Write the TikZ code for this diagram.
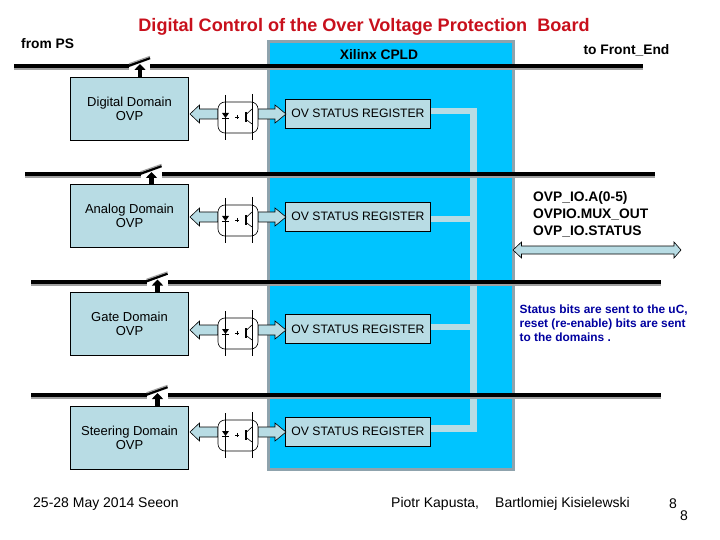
\documentclass[tikz,border=0pt]{standalone}
\usepackage{fontspec}
\setmainfont{Liberation Sans}
\usetikzlibrary{arrows.meta}
\definecolor{lblue}{HTML}{B8DCE4}
\definecolor{cyanb}{HTML}{00C4FF}
\definecolor{edgeg}{HTML}{8FA3AD}
\definecolor{shadowg}{HTML}{A0A0A0}
\definecolor{titler}{HTML}{C8101C}
\definecolor{noteblue}{HTML}{0000A0}
\tikzset{x=1pt,y=-1pt,
 domainbox/.style={draw=black,fill=lblue,line width=.7pt,minimum width=118pt,minimum height=63pt,inner sep=0pt,align=center,font=\fontsize{13}{14}\selectfont},
 regbox/.style={draw=black,fill=lblue,line width=.6pt,minimum width=145pt,minimum height=29pt,inner sep=0pt,font=\fontsize{12.2}{14}\selectfont},
 buswire/.style={line width=4pt,black},
 busshade/.style={line width=2pt,shadowg},
 lbl/.style={inner sep=0pt,font=\fontsize{13.8}{15}\selectfont\bfseries},
 plain/.style={inner sep=0pt,font=\fontsize{14}{15}\selectfont},
 fatarrow/.style={draw=black,fill=lblue,line width=.6pt},
 reglink/.style={line width=6.5pt,lblue},
 opto/.style={line width=.6pt,black}
}
\newcommand{\optocoupler}[2]{%
\begin{scope}[shift={(#1,#2)}]
 \draw[opto,fill=white,rounded corners=7pt] (-34,-12) rectangle (6,19);
 \draw[opto] (-27,-19) -- (-27,26) (0,-20) -- (0,26);
 \fill[black] (-30,-1) -- (-23,-1) -- (-26.5,4) -- cycle;
 \draw[opto] (-30,4.5) -- (-23,4.5);
 \draw[opto] (-17,3) -- (-13,3) (-15,1) -- (-15,5);
 \draw[line width=2pt] (-6.5,-2) -- (-6.5,8);
 \draw[opto] (-6.5,1) -- (0,-5) (-6.5,5) -- (0,10);
\end{scope}}
\begin{document}
\begin{tikzpicture}
\useasboundingbox (0,0) rectangle (720,540);
\fill[white] (0,0) rectangle (720,540);
% CPLD
\node[draw=edgeg,fill=cyanb,line width=3pt,minimum width=245pt,minimum height=427pt,inner sep=0pt] (cpld) at (391,255.5) {};
% registers
\node[regbox] (r1) at (358,113.5) {OV STATUS REGISTER};
\node[regbox] (r2) at (358,216.5) {OV STATUS REGISTER};
\node[regbox] (r3) at (358,329) {OV STATUS REGISTER};
\node[regbox] (r4) at (358,431.5) {OV STATUS REGISTER};
\coordinate (t1) at (473.5,111);
\coordinate (t4) at (473.5,428.5);
\coordinate (j2) at (473.5,219);
\coordinate (j3) at (473.5,327);
\draw[reglink,line join=miter] (r1.east |- t1) -- (t1) -- (t4) -- (r4.east |- t4);
\draw[reglink] (r2.east |- j2) -- (j2);
\draw[reglink] (r3.east |- j3) -- (j3);
% buses
\foreach \yy/\xa/\xb in {66/14/643,174/25/655,281.5/31/661,395/31/661}{
 \draw[busshade] (\xa,\yy+3) -- (\xb,\yy+3);
 \draw[buswire] (\xa,\yy) -- (\xb,\yy);
}
% domain boxes
\node[domainbox] (d1) at (129.5,108.5) {Digital Domain\\OVP};
\node[domainbox] (d2) at (129.5,216) {Analog Domain\\OVP};
\node[domainbox] (d3) at (129.5,323.5) {Gate Domain\\OVP};
\node[domainbox] (d4) at (129.5,438) {Steering Domain\\OVP};
% tapping switches
\foreach \xx/\yy/\dn in {140/66/d1,151.5/174/d2,157.5/281.5/d3,157.5/395/d4}{
 \fill[white] (\xx-11,\yy-3) rectangle (\xx+10,\yy+5);
 \coordinate (tip) at (\xx,\yy-2);
 \draw[line width=2.6pt,black] (\xx-12,\yy) -- (\xx+10,\yy-8);
 \draw[line width=1.2pt,shadowg] (\xx-11,\yy-2.2) -- (\xx+10,\yy-9.6);
 \draw[line width=4.6pt,black,-{Triangle[length=6pt,width=11pt]}] (\dn.north -| tip) -- (tip);
}
% arrows and optocouplers
\foreach \yy in {114,217,330,432}{
 \draw[fatarrow] (190,\yy) -- (199.5,\yy-9) -- (199.5,\yy-5) -- (218,\yy-5) -- (218,\yy+5) -- (199.5,\yy+5) -- (199.5,\yy+9) -- cycle;
 \draw[fatarrow] (286,\yy) -- (275,\yy-9) -- (275,\yy-5) -- (258,\yy-5) -- (258,\yy+5) -- (275,\yy+5) -- (275,\yy+9) -- cycle;
 \optocoupler{252}{\yy}
}
% bidirectional
\coordinate (ba) at (513,250);
\coordinate (bb) at (681,250);
\draw[fatarrow] (ba) -- (521.5,242) -- (521.5,246) -- (674,246) -- (674,242) -- (bb) -- (674,258) -- (674,254) -- (521.5,254) -- (521.5,258) -- cycle;
% text
\node[lbl,text=titler,font=\fontsize{18.1}{20}\selectfont\bfseries,anchor=center] (title) at (364,27) {Digital Control of the Over Voltage Protection\ \ Board};
\node[lbl,anchor=west] (ps) at (21,44) {from PS};
\node[lbl,anchor=center] (xil) at (379,55) {Xilinx CPLD};
\node[lbl,anchor=center] (fe) at (626.5,50) {to Front\_End};
\node[lbl,anchor=west,align=left,font=\fontsize{13.8}{17}\selectfont\bfseries] (sig) at (533,214) {OVP\_IO.A(0-5)\\OVPIO.MUX\_OUT\\OVP\_IO.STATUS};
\node[lbl,anchor=west,align=left,text=noteblue,font=\fontsize{11.9}{14}\selectfont\bfseries] (st) at (519.5,323.5) {Status bits are sent to the uC,\\reset (re-enable) bits are sent\\to the domains .};
\node[plain,anchor=west] (f1) at (33,504) {25-28 May 2014 Seeon};
\node[plain,anchor=west] (f2) at (391,504) {Piotr Kapusta,};
\node[plain,anchor=west] (f3) at (495,504) {Bartlomiej Kisielewski};
\node[plain] (p1) at (673,504) {8};
\node[plain] (p2) at (684,516) {8};
\end{tikzpicture}
\end{document}
